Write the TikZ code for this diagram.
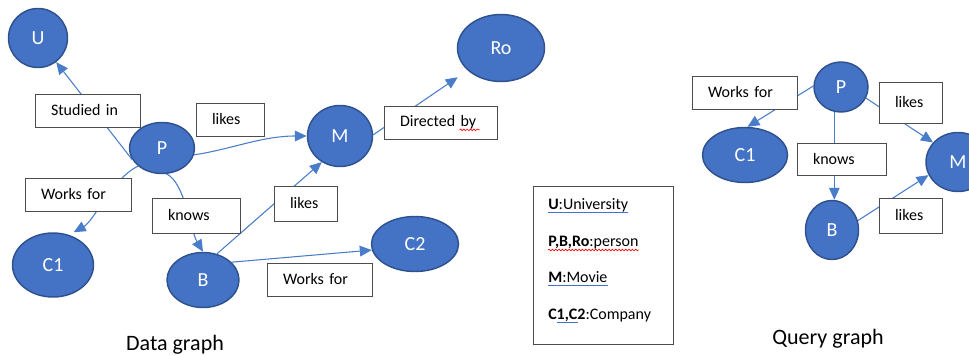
\documentclass[tikz,border=0pt]{standalone}
\usepackage{fontspec}
\setmainfont{Carlito}
\usetikzlibrary{shapes.geometric, arrows.meta, decorations.pathmorphing}

\definecolor{vfill}{HTML}{4472C4}
\definecolor{vline}{HTML}{2F528F}
\definecolor{eline}{HTML}{4A7DC9}

\begin{document}
\begin{tikzpicture}[x=0.75pt, y=-0.75pt,
    vertex/.style 2 args={ellipse, draw=vline, line width=1.1pt, fill=vfill,
        text=white, inner sep=0pt, minimum width=#1*0.75pt, minimum height=#2*0.75pt,
        font=\fontsize{15}{18}\selectfont},
    link/.style={draw=eline, line width=0.8pt, -{Triangle[length=9pt,width=8pt]}},
    lbl/.style 2 args={draw=black!70, fill=white, line width=0.7pt, align=left,
        inner xsep=12pt, inner ysep=0pt, text width=#1, minimum height=#2,
        font=\fontsize{12}{14}\selectfont},
    legtext/.style={anchor=base west, inner sep=0pt, font=\fontsize{12}{14}\selectfont},
    capt/.style={font=\fontsize{16.5}{20}\selectfont},
    wavy/.style={draw=red, line width=0.5pt, decorate,
        decoration={snake, amplitude=0.6pt, segment length=2.5pt}},
    uline/.style={draw=vfill, line width=0.8pt}]

    % --- 0. canvas in pixels of the reference ---
    \useasboundingbox (0,0) rectangle (969,356);

    % --- 1. data graph: vertices ---
    \node[vertex={59}{59}] (U)  at (38,38)   {U};
    \node[vertex={65}{51}] (P)  at (162,148) {P};
    \node[vertex={81}{64}] (C1) at (53,265)  {C1};
    \node[vertex={72}{55}] (B)  at (203,280) {B};
    \node[vertex={65}{61}] (M)  at (340,136) {M};
    \node[vertex={87}{67}] (Ro) at (501,48)  {Ro};
    \node[vertex={87}{55}] (C2) at (415,244) {C2};

    % --- 2. data graph: edges ---
    \draw[link] (P.202) -- (U.307);
    \draw[link] (P.-12) .. controls +(35,-5) and +(-45,0) .. (M.180);
    \draw[link, shorten >=4pt] (P.217) .. controls +(-25,12) and +(25,-14) .. (C1.62);
    \draw[link] (P.-80) .. controls +(18,8) and +(-12,-20) .. (B.90);
    \draw[link] (B.62) -- (M.235);
    \draw[link] (B.32) -- (C2.188);
    \draw[link, shorten >=9pt] (M.2) -- (Ro.214);

    % --- 3. data graph: edge labels ---
    \node[lbl={54.75pt}{24.75pt}] (studied) at (87.5,110.5) {Studied in};
    \node[lbl={27pt}{24.75pt}]    (likesPM) at (230,119.5)  {likes};
    \node[lbl={55.5pt}{24.75pt}]  (worksPC) at (78,194.5)   {Works for};
    \node[lbl={42pt}{26.25pt}]    (knowsPB) at (196,215.5)  {knows};
    \node[lbl={23.25pt}{26.25pt}] (likesBM) at (305.5,203.5) {likes};
    \node[lbl={54.75pt}{24.75pt}] (worksBC) at (319.5,279.5) {Works for};
    \node[lbl={60.75pt}{24.75pt}] (dirby)   at (440.5,122.5) {Directed by};
    \draw[wavy] ([xshift=57pt,yshift=-5.5pt]dirby.west) -- ++(15pt,0);

    % --- 4. legend ---
    \node[draw=black!70, line width=0.7pt, inner sep=0pt,
          minimum width=105pt, minimum height=118.5pt] (legend) at (603,265) {};
    \node[legtext] (legU) at (548,209) {\textbf{U}:University};
    \node[legtext] (legP) at (548,246) {\textbf{P,B,Ro}:person};
    \node[legtext] (legM) at (548,282) {\textbf{M}:Movie};
    \node[legtext] (legC) at (548,319) {\textbf{C1,C2}:Company};
    \draw[uline] ([yshift=-2.5pt]legU.base west) -- ([yshift=-2.5pt]legU.base east);
    \draw[wavy]  ([yshift=-3pt]legP.base west) -- ([yshift=-3pt]legP.base east);
    \draw[uline] ([yshift=-2.5pt]legM.base west) -- ([yshift=-2.5pt]legM.base east);
    \draw[uline] ([xshift=6.75pt,yshift=-2.5pt]legC.base west) -- ++(15.75pt,0);

    % --- 5. query graph: vertices ---
    \node[vertex={54}{50}] (qP)  at (841,87)  {P};
    \node[vertex={85}{55}] (qC1) at (745,155) {C1};
    \node[vertex={53}{59}] (qB)  at (832,230) {B};
    \node[vertex={64}{59}] (qM)  at (958,162) {M};

    % --- 6. query graph: edges and labels ---
    \draw[link] (qP.178) -- (qC1.85);
    \draw[link] (qP.-24) -- (qM.142);
    \draw[link] (qP.255) -- (qP.255 |- qB.north);
    \draw[link] (qB.20) -- (qM.204);
    \node[lbl={54.75pt}{24.75pt}] (qworks)  at (744.5,92.5)  {Works for};
    \node[lbl={23.25pt}{30.75pt}] (qlikesP) at (910.5,102.5) {likes};
    \node[lbl={42.75pt}{24pt}]    (qknows)  at (841.5,159)   {knows};
    \node[lbl={23.25pt}{26.25pt}] (qlikesB) at (910.5,215.5) {likes};

    % --- 7. captions ---
    \node[capt] (datacap)  at (175,345) {Data graph};
    \node[capt] (querycap) at (828,339) {Query graph};
\end{tikzpicture}
\end{document}
